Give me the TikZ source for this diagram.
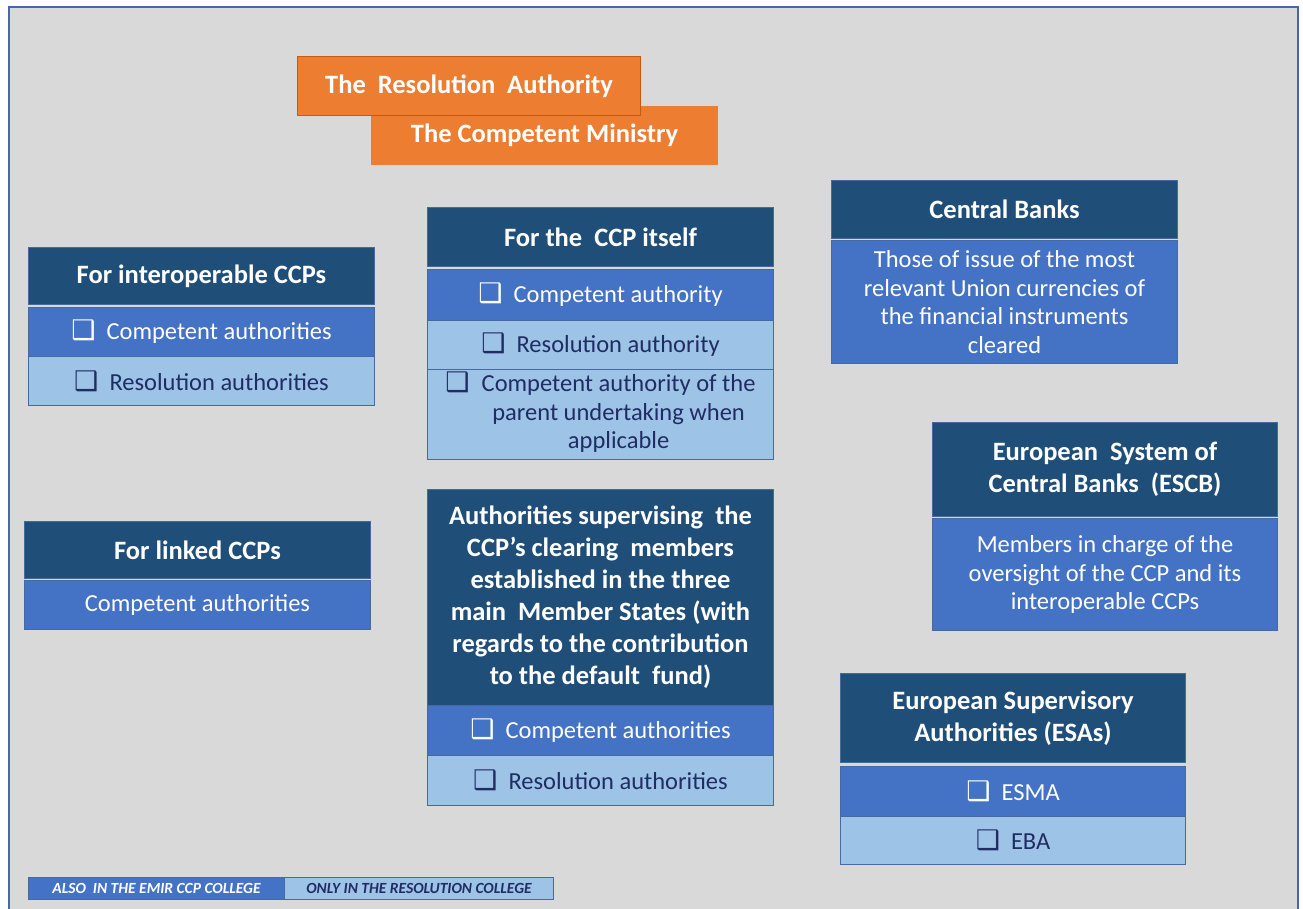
\documentclass[tikz,border=0pt]{standalone}
\usepackage{fontspec}
\setmainfont{Carlito}
\newfontfamily\symfont{DejaVu Sans}
\definecolor{bgc}{RGB}{217,217,217}
\definecolor{framec}{RGB}{68,104,170}
\definecolor{hdrc}{RGB}{31,78,121}
\definecolor{medc}{RGB}{68,114,196}
\definecolor{litc}{RGB}{157,195,230}
\definecolor{navyc}{RGB}{32,45,100}
\definecolor{bordc}{RGB}{70,105,160}
\definecolor{orc}{RGB}{237,125,49}
\definecolor{orb}{RGB}{197,90,17}
\newcommand\cbx{{\symfont\fontsize{27}{20}\selectfont ❑}}
\begin{document}
\begin{tikzpicture}[x=1pt,y=-1pt,
  box/.style={draw=bordc, line width=1pt, inner sep=0pt, anchor=north west, align=center},
  hdr/.style={box, fill=hdrc, text=white, font=\fontsize{26.5}{32}\selectfont\bfseries},
  med/.style={box, fill=medc, text=white, font=\fontsize{24.5}{28.5}\selectfont},
  lit/.style={box, fill=litc, text=navyc, font=\fontsize{24.5}{28.5}\selectfont},
  orbox/.style={box, fill=orc, text=white, font=\fontsize{26.5}{30}\selectfont\bfseries},
  legm/.style={box, fill=medc, text=white, font=\fontsize{15.5}{17}\selectfont\bfseries\itshape},
  legl/.style={box, fill=litc, text=navyc, font=\fontsize{15.5}{17}\selectfont\bfseries\itshape}]
\useasboundingbox (0,0) rectangle (1303,909);
\fill[bgc] (9,7) rectangle (1298,909);
\draw[framec, line width=2pt] (9,909) -- (9,7) -- (1298,7) -- (1298,909);

% orange
\node[orbox, draw=orc, minimum width=346pt, minimum height=58pt] (cm) at (371,106) {The Competent Ministry};
\node[orbox, draw=orb, minimum width=343pt, minimum height=59pt] (ra) at (297,56) {The\ \ Resolution\ \ Authority};

% interoperable
\node[hdr, minimum width=346pt, minimum height=57pt] (io) at (28,247) {For interoperable CCPs};
\node[med, minimum width=346pt, minimum height=49pt] (io1) at (28,307) {\cbx\ \ Competent authorities};
\node[lit, minimum width=346pt, minimum height=49pt] (io2) at (28,356) {\cbx\ \ Resolution authorities};

% CCP itself
\node[hdr, minimum width=346pt, minimum height=59pt] (ccp) at (427,207) {For the\ \ CCP itself};
\node[med, minimum width=346pt, minimum height=51pt] (ccp1) at (427,269) {\cbx\ \ Competent authority};
\node[lit, minimum width=346pt, minimum height=49pt] (ccp2) at (427,320) {\cbx\ \ Resolution authority};
\node[lit, minimum width=346pt, minimum height=90pt] (ccp3) at (427,369) {\begin{tabular}{@{}l@{\hspace{12pt}}c@{}}\cbx & Competent authority of the\\ & parent undertaking when\\ & applicable\end{tabular}};

% linked
\node[hdr, minimum width=346pt, minimum height=57pt] (lk) at (24,521) {For linked CCPs};
\node[med, minimum width=346pt, minimum height=49pt] (lk1) at (24,580) {Competent authorities};

% authorities supervising
\node[hdr, minimum width=346pt, minimum height=216pt] (as) at (427,489) {Authorities supervising\ \ the\\CCP’s clearing\ \ members\\established in the three\\main\ \ Member States (with\\regards to the contribution\\to the default\ \ fund)};
\node[med, minimum width=346pt, minimum height=50pt] (as1) at (427,705) {\cbx\ \ Competent authorities};
\node[lit, minimum width=346pt, minimum height=50pt] (as2) at (427,755) {\cbx\ \ Resolution authorities};

% central banks
\node[hdr, minimum width=346pt, minimum height=58pt] (cb) at (831,180) {Central Banks};
\node[med, minimum width=346pt, minimum height=123pt] (cb1) at (831,240) {Those of issue of the most\\relevant Union currencies of\\the financial instruments\\cleared};

% ESCB
\node[hdr, minimum width=345pt, minimum height=94pt] (es) at (932,422) {European\ \ System of\\Central Banks\ \ (ESCB)};
\node[med, minimum width=345pt, minimum height=112pt] (es1) at (932,518) {Members in charge of the\\oversight of the CCP and its\\interoperable CCPs};

% ESAs
\node[hdr, minimum width=345pt, minimum height=89pt] (esa) at (840,673) {European Supervisory\\Authorities (ESAs)};
\node[med, minimum width=345pt, minimum height=50pt] (esa1) at (840,766) {\cbx\ \ ESMA};
\node[lit, minimum width=345pt, minimum height=48pt] (esa2) at (840,816) {\cbx\ \ EBA};

% legend
\node[legm, minimum width=256pt, minimum height=22pt] (l1) at (28,877) {ALSO\ \ IN THE EMIR CCP COLLEGE};
\node[legl, minimum width=269pt, minimum height=22pt] (l2) at (284,877) {ONLY IN THE RESOLUTION COLLEGE};
\end{tikzpicture}
\end{document}
